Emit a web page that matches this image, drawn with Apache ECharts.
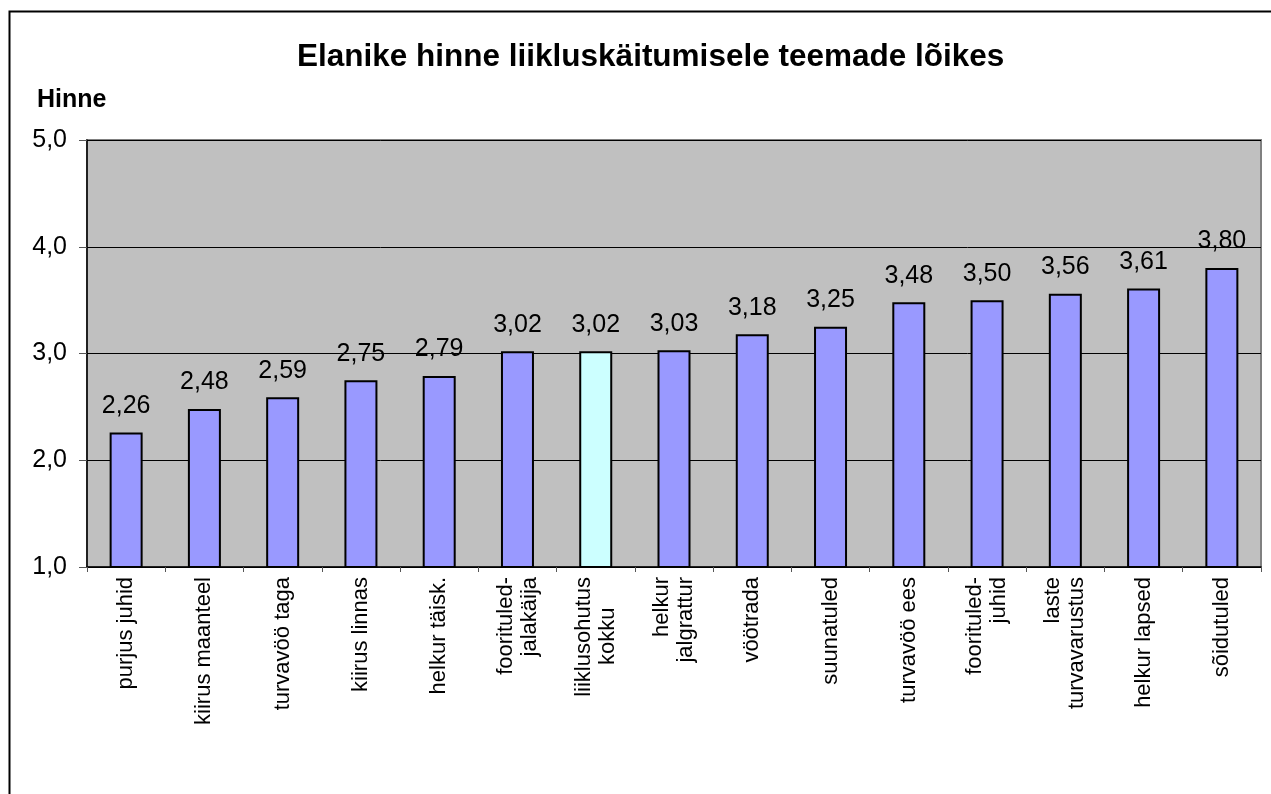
<!DOCTYPE html>
<html>
<head>
<meta charset="utf-8">
<script src="https://cdn.jsdelivr.net/npm/echarts@6/dist/echarts.min.js"></script>
<style>
  html, body { margin: 0; padding: 0; background: #fff; }
  #chart1 { width: 1271px; height: 794px; }
</style>
</head>
<body>
<div id="chart1"></div>
<script>
var categories = [
    'purjus juhid', 'kiirus maanteel', 'turvavöö taga', 'kiirus linnas', 'helkur täisk.',
    'foorituled-\njalakäija', 'liiklusohutus\nkokku     ', 'helkur\njalgrattur', 'vöötrada', 'suunatuled',
    'turvavöö ees', 'foorituled-\njuhid', 'laste\nturvavarustus', 'helkur lapsed', 'sõidutuled'
];
var values = [2.26, 2.48, 2.59, 2.75, 2.79, 3.02, 3.02, 3.03, 3.18, 3.25, 3.48, 3.50, 3.56, 3.61, 3.80];
var totalIndex = 6;   // "liiklusohutus kokku" is drawn in another colour
var yTicks = [1, 2, 3, 4, 5];

var dom = document.getElementById("chart1");
var myChart = echarts.init(dom);

var barData = values.map(function (v, i) {
    return {
        value: v,
        itemStyle: {color: i === totalIndex ? '#CCFFFF' : '#9999FF'}
    };
});

function comma(v, digits) {
    return v.toFixed(digits).replace('.', ',');
}

var font = '"Liberation Sans", Arial, sans-serif';

option = {
    animation: false,
    backgroundColor: '#fff',
    textStyle: {fontFamily: font},
    title: {
        text: 'Elanike hinne liikluskäitumisele teemade lõikes',
        left: 292,
        top: 36,
        textStyle: {fontSize: 31.5, fontWeight: 'bold', color: '#000', fontFamily: font}
    },
    graphic: [
        {
            type: 'rect',
            left: 7, top: 9,
            shape: {width: 1400, height: 1000},
            style: {fill: 'none', stroke: '#000', lineWidth: 2},
            silent: true
        },
        {
            type: 'text',
            left: 37, top: 88,
            style: {text: 'Hinne', fill: '#000', font: 'bold 25px ' + font}
        }
    ],
    grid: {
        left: 87, right: 10, top: 140, bottom: 227,
        show: true,
        backgroundColor: '#C0C0C0',
        borderColor: '#808080',
        borderWidth: 2
    },
    xAxis: [{
        type: 'category',
        data: categories,
        axisLine: {lineStyle: {color: '#000', width: 1.5}},
        axisTick: {show: true, length: 5, lineStyle: {color: '#555'}},
        axisLabel: {
            rotate: 90,
            margin: 10,
            interval: 0,
            fontSize: 22,
            color: '#000',
            lineHeight: 24,
            fontFamily: font
        }
    }],
    yAxis: [{
        type: 'value',
        min: yTicks[0],
        max: yTicks[yTicks.length - 1],
        interval: 1,
        axisLine: {show: true, lineStyle: {color: '#000', width: 1.5}},
        axisTick: {show: true, length: 8, lineStyle: {color: '#555'}},
        axisLabel: {
            fontSize: 25,
            color: '#000',
            margin: 20,
            fontFamily: font,
            formatter: function (v) { return comma(v, 1); }
        },
        splitLine: {show: true, lineStyle: {color: '#000', width: 1}}
    }],
    series: [{
        name: 'Hinne',
        type: 'bar',
        data: barData,
        barWidth: 33,
        itemStyle: {borderColor: '#000', borderWidth: 2},
        label: {
            show: true,
            position: 'top',
            distance: 14,
            fontSize: 25,
            color: '#000',
            fontFamily: font,
            formatter: function (p) { return comma(p.value, 2); }
        }
    }]
};

if (option && typeof option === "object") {
    myChart.setOption(option, true);
}
</script>
</body>
</html>
